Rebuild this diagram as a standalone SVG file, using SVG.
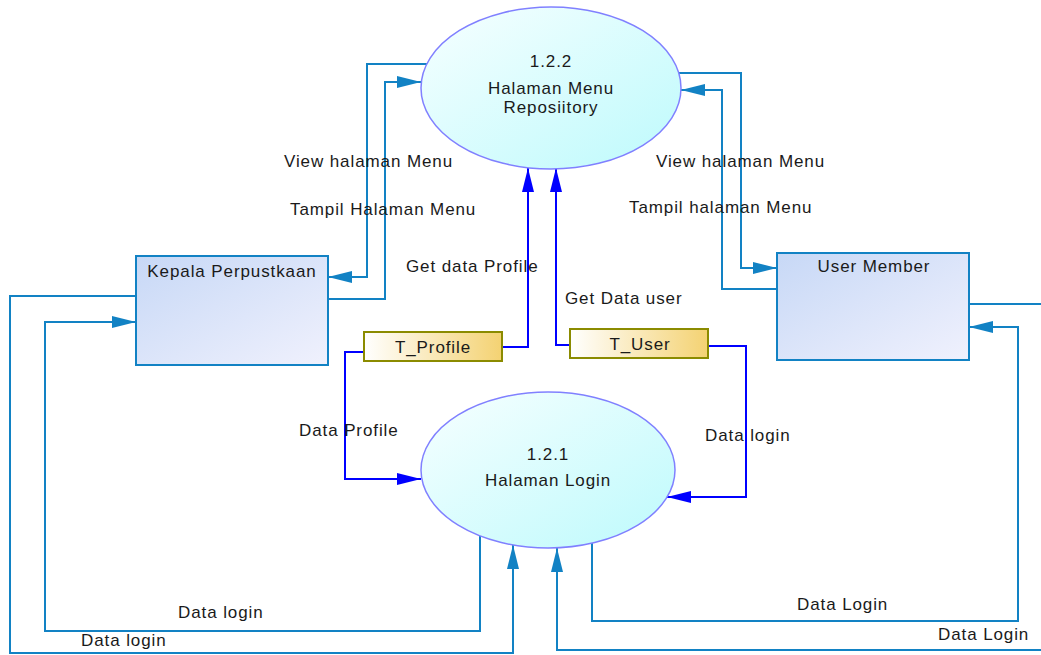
<svg xmlns="http://www.w3.org/2000/svg" width="1041" height="655" viewBox="0 0 1041 655">
<style>
text{font-family:"Liberation Sans",Arial,sans-serif;font-size:17px;fill:#1a1a1a;letter-spacing:0.9px}
.c{fill:none;stroke:#1282C4;stroke-width:2}
.b{fill:none;stroke:#0000FF;stroke-width:2}
.ca{marker-end:url(#ac)}
.ba{marker-end:url(#ab)}
.proc{fill:url(#gp);stroke:#8080FF;stroke-width:1.5}
.ent{fill:url(#ge);stroke:#1282C4;stroke-width:2}
.ds{fill:url(#gd);stroke:#8B8B00;stroke-width:2}
.m{text-anchor:middle}
</style>
<defs>
<linearGradient id="gp" x1="0" y1="0" x2="1" y2="1"><stop offset="0" stop-color="#F7FFFF"/><stop offset="1" stop-color="#BDFAFC"/></linearGradient>
<linearGradient id="ge" x1="0" y1="0" x2="1" y2="1"><stop offset="0" stop-color="#C7D8F6"/><stop offset="1" stop-color="#F0F1FD"/></linearGradient>
<linearGradient id="gd" x1="0" y1="0" x2="1" y2="0"><stop offset="0" stop-color="#FFFFFF"/><stop offset="1" stop-color="#F4D272"/></linearGradient>
<marker id="ac" markerUnits="userSpaceOnUse" markerWidth="24" markerHeight="12" refX="24" refY="6" orient="auto"><path d="M0,0 L24,6 L0,12 z" fill="#1282C4"/></marker>
<marker id="ab" markerUnits="userSpaceOnUse" markerWidth="24" markerHeight="12" refX="24" refY="6" orient="auto"><path d="M0,0 L24,6 L0,12 z" fill="#0000FF"/></marker>
</defs>
<g id="connectors">
<path class="c ca" d="M136,296 H10 V653 H513 V545"/>
<path class="c ca" d="M480,536 V631 H45 V322 H136"/>
<path class="c ca" d="M592,543 V621 H1018 V327 H969"/>
<path class="c ca" d="M969,304 H1045 V650 H557 V548"/>
<path class="c ca" d="M428,64 H367 V277 H328"/>
<path class="c ca" d="M328,299 H385 V82 H421"/>
<path class="c ca" d="M678,73 H741 V268 H777"/>
<path class="c ca" d="M777,289 H722 V90 H681"/>
<path class="b ba" d="M502,347 H528 V168"/>
<path class="b ba" d="M570,345 H556 V168"/>
<path class="b ba" d="M364,352 H345 V479 H421"/>
<path class="b ba" d="M708,346 H746 V497 H667"/>
<text x="284" y="167">View halaman Menu</text>
<text x="290" y="215">Tampil Halaman Menu</text>
<text x="406" y="272">Get data Profile</text>
<text x="656" y="167">View halaman Menu</text>
<text x="629" y="213">Tampil halaman Menu</text>
<text x="565" y="304">Get Data user</text>
<text x="299" y="436">Data Profile</text>
<text x="705" y="441">Data login</text>
<text x="178" y="618">Data login</text>
<text x="81" y="646">Data login</text>
<text x="797" y="610">Data Login</text>
<text x="938" y="640">Data Login</text>
</g>
<g id="p122">
<ellipse class="proc" cx="551" cy="88" rx="130" ry="81"/>
<text class="m" x="551" y="67">1.2.2</text>
<text class="m" x="551" y="94">Halaman Menu</text>
<text class="m" x="551" y="113">Reposiitory</text>
</g>
<g id="p121">
<ellipse class="proc" cx="548" cy="470" rx="127" ry="78"/>
<text class="m" x="548" y="460">1.2.1</text>
<text class="m" x="548" y="486">Halaman Login</text>
</g>
<g id="kepala">
<rect class="ent" x="136" y="256" width="192" height="109"/>
<text class="m" x="232" y="277">Kepala Perpustkaan</text>
</g>
<g id="member">
<rect class="ent" x="777" y="253" width="192" height="107"/>
<text class="m" x="874" y="272">User Member</text>
</g>
<g id="tprofile">
<rect class="ds" x="364" y="332" width="138" height="29"/>
<text class="m" x="433" y="353">T_Profile</text>
</g>
<g id="tuser">
<rect class="ds" x="570" y="329" width="138" height="29"/>
<text class="m" x="640" y="350">T_User</text>
</g>
</svg>
